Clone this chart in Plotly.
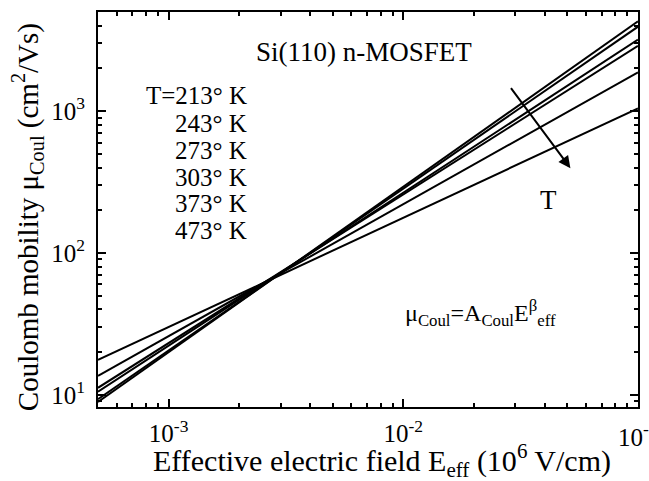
import plotly.graph_objects as go
import numpy as np

# Effective field endpoints (10^6 V/cm) and Coulomb mobility (cm^2/Vs) for each temperature
e_eff = [5e-4, 1e-1]
temps = [213, 243, 273, 303, 373, 473]
mu_213 = [8.9, 4300]
mu_243 = [9.3, 3940]
mu_273 = [10.5, 3190]
mu_303 = [11.2, 2890]
mu_373 = [13.6, 1880]
mu_473 = [17.6, 1045]
mobility = [mu_213, mu_243, mu_273, mu_303, mu_373, mu_473]

x_tickvals = [1e-3, 1e-2, 1e-1]
x_ticktext = ["10<sup>-3</sup>", "10<sup>-2</sup>", "10<sup>-1</sup>"]
y_tickvals = [1e1, 1e2, 1e3]
y_ticktext = ["10<sup>1</sup>", "10<sup>2</sup>", "10<sup>3</sup>"]

FONT = "Liberation Serif"
X_RANGE = [np.log10(5e-4), -1]
Y_RANGE = [np.log10(8.2), np.log10(5000)]

fig = go.Figure()
for t, mu in zip(temps, mobility):
    fig.add_trace(go.Scatter(x=e_eff, y=mu, mode="lines", name=f"{t} K",
                             line=dict(color="black", width=2), showlegend=False,
                             hoverinfo="skip"))
# invisible carrier trace so the mirrored (top/right) axes are drawn
fig.add_trace(go.Scatter(x=e_eff, y=mu_213, xaxis="x2", yaxis="y2", mode="lines",
                         line=dict(color="rgba(0,0,0,0)", width=0), showlegend=False,
                         hoverinfo="skip"))

minor_x = [m * 10.0 ** p for p in range(-4, 0) for m in range(2, 10)]
minor_y = [m * 10.0 ** p for p in range(0, 4) for m in range(2, 10)]

tick_font = dict(family=FONT, size=25, color="black")
axis_common = dict(
    type="log", showgrid=False, zeroline=False, showline=True, linecolor="black",
    linewidth=2, ticks="inside", ticklen=8, tickwidth=1.5, tickcolor="black",
    tickfont=tick_font,
)

fig.update_layout(
    xaxis=dict(**axis_common, range=X_RANGE, tickvals=x_tickvals, ticktext=x_ticktext,
               ticklabelstandoff=3,
               minor=dict(tickvals=minor_x, ticks="inside", ticklen=4, tickwidth=1.5,
                          tickcolor="black")),
    yaxis=dict(**axis_common, range=Y_RANGE, tickvals=y_tickvals, ticktext=y_ticktext,
               ticklabelstandoff=6,
               minor=dict(tickvals=minor_y, ticks="inside", ticklen=4, tickwidth=1.5,
                          tickcolor="black")),
    xaxis2=dict(**axis_common, range=X_RANGE, overlaying="x", side="top",
                tickvals=x_tickvals, showticklabels=False,
                minor=dict(tickvals=minor_x, ticks="inside", ticklen=4, tickwidth=1.5,
                           tickcolor="black")),
    yaxis2=dict(**axis_common, range=Y_RANGE, overlaying="y", side="right",
                tickvals=y_tickvals, showticklabels=False,
                minor=dict(tickvals=minor_y, ticks="inside", ticklen=4, tickwidth=1.5,
                           tickcolor="black")),
)

annotations = []
# axis titles
annotations.append(dict(
    text="Effective electric field E<sub>eff</sub> (10<sup>6</sup> V/cm)",
    xref="paper", yref="paper", x=0.526, y=-0.136, xanchor="center", yanchor="middle",
    showarrow=False, font=dict(family=FONT, size=30, color="black")))
annotations.append(dict(
    text="Coulomb mobility \u03bc<sub>Coul</sub> (cm<sup>2</sup>/Vs)",
    xref="paper", yref="paper", x=-0.13, y=0.48, xanchor="center", yanchor="middle",
    textangle=-90, showarrow=False, font=dict(family=FONT, size=29, color="black")))

# last x tick label sits on the plot's right edge
annotations.append(dict(
    text=x_ticktext[-1], xref="paper", yref="paper", x=1.0, y=-0.072,
    xanchor="center", yanchor="middle", showarrow=False, font=tick_font))

# temperature list
row_y = [95, 123, 150, 177, 203, 230]
for i, t in enumerate(temps):
    label = f"T={t}\u00b0 K" if i == 0 else f"{t}\u00b0 K"
    annotations.append(dict(
        text=label, xref="paper", yref="paper", x=(249 - 98) / 540, y=(407 - row_y[i]) / 395,
        xanchor="right", yanchor="middle", showarrow=False,
        font=dict(family=FONT, size=25, color="black")))

annotations.append(dict(
    text="Si(110) n-MOSFET", xref="paper", yref="paper", x=0.4926, y=0.899,
    xanchor="center", yanchor="middle", showarrow=False,
    font=dict(family=FONT, size=27, color="black")))

annotations.append(dict(
    text="\u03bc<sub>Coul</sub>=A<sub>Coul</sub>E<sup>\u03b2</sup><sub>eff</sub>",
    xref="paper", yref="paper", x=0.709, y=0.238, xanchor="center", yanchor="middle",
    showarrow=False, font=dict(family=FONT, size=24, color="black")))

annotations.append(dict(
    text="T", xref="paper", yref="paper", x=0.835, y=0.524, xanchor="center", yanchor="middle",
    showarrow=False, font=dict(family=FONT, size=27, color="black")))

# arrow indicating increasing temperature
annotations.append(dict(
    x=-1.288, y=2.598, ax=-1.546, ay=3.173, xref="x", yref="y", axref="x", ayref="y",
    text="", showarrow=True, arrowhead=2, arrowsize=1.2, arrowwidth=2, arrowcolor="black"))

fig.update_layout(
    width=649, height=481,
    margin=dict(l=98, r=11, t=12, b=74),
    paper_bgcolor="white", plot_bgcolor="white",
    annotations=annotations,
)

fig.write_html("out.html")
